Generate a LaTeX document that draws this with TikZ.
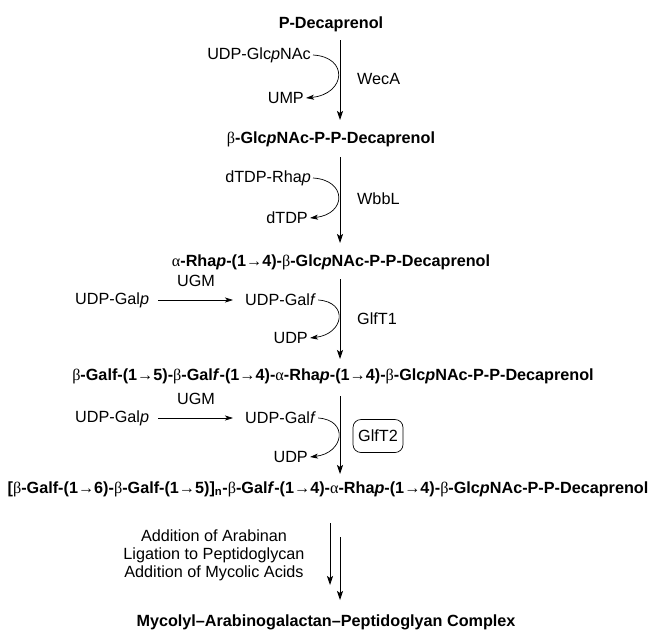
\documentclass[tikz,border=0pt]{standalone}
\usepackage{fontspec}
\setmainfont{Liberation Sans}
\newfontfamily\symfam{Liberation Serif}
\usetikzlibrary{arrows.meta}
\newcommand{\fsz}{\fontsize{16.2}{18}\selectfont}
\newcommand{\bet}{{\symfam\mdseries\upshape β}}
\newcommand{\alp}{{\symfam\mdseries\upshape α}}
\newcommand{\rarr}{{\symfam\mdseries\upshape →}}

\begin{document}
\begin{tikzpicture}[x=1pt, y=-1pt, >={Stealth[length=9pt,width=6pt,inset=2pt]},
  every node/.style={font=\fsz, inner sep=2pt},
  chem/.style={font=\fsz\bfseries},
  rxn/.style={->, line width=0.8pt},
  side/.style={-{Stealth[length=8pt,width=5pt,inset=2pt]}, line width=0.7pt},
  enz/.style={draw, rounded corners=8pt, line width=0.7pt, minimum width=50pt, minimum height=33pt}]
\path[use as bounding box] (0,0) rectangle (655,635);
\node[chem] (P0) at (331,24) {P-Decaprenol};
\node[chem] (P1) at (331,139) {\bet-Glc\textit{p}NAc-P-P-Decaprenol};
\node[chem] (P2) at (331,262) {\alp-Rha\textit{p}-(1\rarr4)-\bet-Glc\textit{p}NAc-P-P-Decaprenol};
\node[chem] (P3) at (333,376) {\bet-Galf-(1\rarr5)-\bet-Gal\textit{f}-(1\rarr4)-\alp-Rha\textit{p}-(1\rarr4)-\bet-Glc\textit{p}NAc-P-P-Decaprenol};
\node[chem] (P4) at (328,489) {[\bet-Galf-(1\rarr6)-\bet-Galf-(1\rarr5)]\textsubscript{n}-\bet-Gal\textit{f}-(1\rarr4)-\alp-Rha\textit{p}-(1\rarr4)-\bet-Glc\textit{p}NAc-P-P-Decaprenol};
\node[chem] (P5) at (326,622) {Mycolyl–Arabinogalactan–Peptidoglyan Complex};

\node[anchor=east] (don1) at (313,55) {UDP-Glc\textit{p}NAc};
\node[anchor=west] (enz1) at (355,79) {WecA};
\node[anchor=east] (out1) at (306,98) {UMP};
\coordinate (a1) at (340,40);
\coordinate (b1) at (340,120);
\draw[rxn] (a1) -- (b1);
\draw[side] (don1.east) .. controls +(36,2) and +(40,-4) .. (out1.east);

\node[anchor=east] (don2) at (313,178) {dTDP-Rha\textit{p}};
\node[anchor=west] (enz2) at (355,199) {WbbL};
\node[anchor=east] (out2) at (310,218) {dTDP};
\coordinate (a2) at (340,157);
\coordinate (b2) at (340,243);
\draw[rxn] (a2) -- (b2);
\draw[side] (don2.east) .. controls +(34,2) and +(37,-4) .. (out2.east);

\node[anchor=west] (gal3) at (73,300) {UDP-Gal\textit{p}};
\node (ugm3) at (196,281) {UGM};
\node[anchor=west] (don3) at (243,300) {UDP-Gal\textit{f}};
\node[anchor=west] (enz3) at (355,319) {GlfT1};
\node[anchor=east] (out3) at (310,338) {UDP};
\coordinate (a3) at (340,279);
\coordinate (b3) at (340,359);
\draw[side, shorten <=7pt, shorten >=10pt] (gal3) -- (don3);
\draw[rxn] (a3) -- (b3);
\draw[side] (don3.east) .. controls +(31,2) and +(34,-4) .. (out3.east);

\node[anchor=west] (gal4) at (73,418) {UDP-Gal\textit{p}};
\node (ugm4) at (196,399) {UGM};
\node[anchor=west] (don4) at (243,418) {UDP-Gal\textit{f}};
\node[enz] (enz4) at (378,436) {GlfT2};
\node[anchor=east] (out4) at (310,457) {UDP};
\coordinate (a4) at (340,396);
\coordinate (b4) at (340,474);
\draw[side, shorten <=7pt, shorten >=10pt] (gal4) -- (don4);
\draw[rxn] (a4) -- (b4);
\draw[side] (don4.east) .. controls +(31,2) and +(34,-4) .. (out4.east);

\node[align=center] (add) at (214,555) {Addition of Arabinan\\Ligation to Peptidoglycan\\Addition of Mycolic Acids};
\coordinate (a5) at (330,523);
\coordinate (b5) at (330,585);
\coordinate (c5) at (340,537);
\coordinate (d5) at (340,600);
\draw[rxn] (a5) -- (b5);
\draw[rxn] (c5) -- (d5);
\end{tikzpicture}
\end{document}
